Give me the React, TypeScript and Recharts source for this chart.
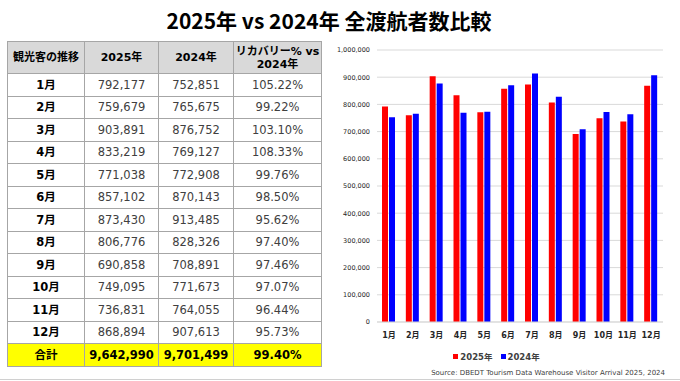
import React from "react";
import { BarChart, Bar, XAxis, YAxis, CartesianGrid, Legend } from "recharts";

const months = ["1月", "2月", "3月", "4月", "5月", "6月", "7月", "8月", "9月", "10月", "11月", "12月"];
const visitors2025 = [792177, 759679, 903891, 833219, 771038, 857102, 873430, 806776, 690858, 749095, 736831, 868894];
const visitors2024 = [752851, 765675, 876752, 769127, 772908, 870143, 913485, 828326, 708891, 771673, 764055, 907613];
const recovery = ["105.22%", "99.22%", "103.10%", "108.33%", "99.76%", "98.50%", "95.62%", "97.40%", "97.46%", "97.07%", "96.44%", "95.73%"];
const totals = ["9,642,990", "9,701,499", "99.40%"];
const yTicks = [0, 100000, 200000, 300000, 400000, 500000, 600000, 700000, 800000, 900000, 1000000];

const RED = "#ff0000";
const BLUE = "#0000ff";
const FONT = '"DejaVu Sans", "Noto Sans CJK JP", sans-serif';

const fmt = (n: number) => n.toLocaleString("en-US");

const data = months.map((m, i) => ({ month: m, y2025: visitors2025[i], y2024: visitors2024[i] }));

const border = "1px solid #a6a6a6";
const cell: React.CSSProperties = { border, textAlign: "center", verticalAlign: "middle", padding: 0, height: 21.5, lineHeight: "14px", fontSize: 11.5, color: "#404040" };
const head: React.CSSProperties = { ...cell, height: 31, background: "#d9d9d9", color: "#000", fontWeight: "bold", fontSize: 11, lineHeight: "13px" };

function LegendContent() {
  const items = [
    { label: "2025年", color: RED },
    { label: "2024年", color: BLUE },
  ];
  return (
    <div style={{ height: 20, display: "flex", justifyContent: "center", alignItems: "center", gap: 8, fontFamily: FONT, fontSize: 8.5, fontWeight: "bold", color: "#404040" }}>
      {items.map(it => (
        <span key={it.label} style={{ display: "flex", alignItems: "center" }}>
          <span style={{ display: "inline-block", width: 5, height: 5, background: it.color, marginRight: 2 }} />
          {it.label}
        </span>
      ))}
    </div>
  );
}

export default function App() {
  return (
    <div style={{ position: "absolute", left: 0, top: 0, width: 680, height: 381, background: "#fff", fontFamily: FONT, overflow: "hidden" }}>
      <div style={{ position: "absolute", left: -11, top: 5, width: 680, textAlign: "center", fontFamily: '"Noto Sans CJK JP", sans-serif', fontWeight: "bold", fontSize: 21, color: "#000" }}>
        2025年 vs 2024年 全渡航者数比較
      </div>

      <table style={{ position: "absolute", left: 7, top: 41, width: 314, borderCollapse: "collapse", tableLayout: "fixed", fontFamily: FONT }}>
        <colgroup>
          <col style={{ width: 77 }} />
          <col style={{ width: 74 }} />
          <col style={{ width: 75 }} />
          <col style={{ width: 88 }} />
        </colgroup>
        <thead>
          <tr>
            <th style={head}>観光客の推移</th>
            <th style={head}>2025年</th>
            <th style={head}>2024年</th>
            <th style={head}>リカバリー% vs<br />2024年</th>
          </tr>
        </thead>
        <tbody>
          {months.map((m, i) => (
            <tr key={m}>
              <td style={{ ...cell, color: "#000", fontWeight: "bold" }}>{m}</td>
              <td style={cell}>{fmt(visitors2025[i])}</td>
              <td style={cell}>{fmt(visitors2024[i])}</td>
              <td style={cell}>{recovery[i]}</td>
            </tr>
          ))}
          <tr>
            <td style={{ ...cell, background: "#ffff00", color: "#000", fontWeight: "bold" }}>合計</td>
            {totals.map(t => (
              <td key={t} style={{ ...cell, background: "#ffff00", color: "#000", fontWeight: "bold" }}>{t}</td>
            ))}
          </tr>
        </tbody>
      </table>

      <div style={{ position: "absolute", left: 330, top: 38 }}>
        <BarChart width={345} height={328} data={data} margin={{ top: 12, right: 12, bottom: 0, left: 0 }} barSize={6} barGap={1}>
          <CartesianGrid vertical={false} stroke="#d9d9d9" />
          <XAxis dataKey="month" axisLine={{ stroke: "#d9d9d9" }} tickLine={false} tickSize={0} tickMargin={10} height={24} interval={0}
            tick={{ fill: "#262626", fontSize: 8, fontWeight: "bold", fontFamily: FONT }} />
          <YAxis domain={[0, 1000000]} ticks={yTicks} width={47} axisLine={false} tickLine={false} tickSize={0} tickMargin={7}
            tickFormatter={fmt} tick={{ fill: "#262626", fontSize: 6.5, fontFamily: FONT }} />
          <Legend verticalAlign="bottom" height={20} content={() => <LegendContent />} />
          <Bar dataKey="y2025" name="2025年" fill={RED} isAnimationActive={false} />
          <Bar dataKey="y2024" name="2024年" fill={BLUE} isAnimationActive={false} />
        </BarChart>
      </div>

      <div style={{ position: "absolute", right: 15, top: 369, fontSize: 7, color: "#404040", fontFamily: FONT }}>
        Source: DBEDT Tourism Data Warehouse Visitor Arrival 2025, 2024
      </div>
      <div style={{ position: "absolute", left: 0, top: 379, width: 680, height: 1, background: "#d0d0d0" }} />
    </div>
  );
}
